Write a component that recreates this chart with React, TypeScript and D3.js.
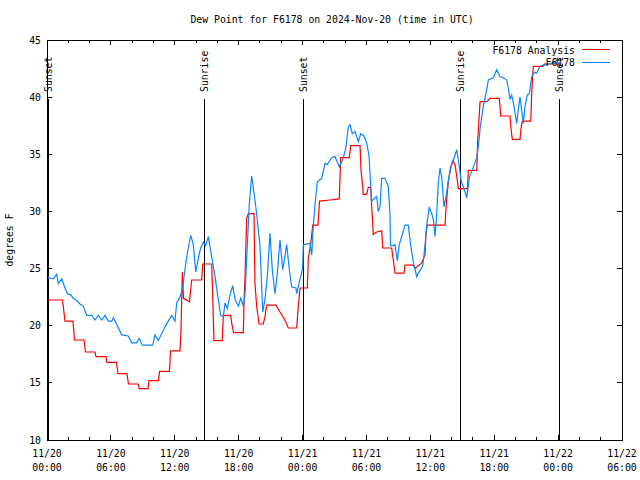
import React from 'react';
import * as d3 from 'd3';

// hours since 2024-11-20 00:00 UTC
const obsHours = [0.0, 0.1, 0.59, 0.91, 1.06, 1.38, 1.69, 1.91, 2.23, 2.47, 2.79, 3.1, 3.41, 3.73, 4.2, 4.51, 4.82, 5.14, 5.45, 5.76, 6.08, 6.23, 6.55, 7.02, 7.64, 7.95, 8.42, 8.67, 8.95, 9.93, 10.14, 10.45, 10.77, 11.08, 11.39, 11.71, 12.02, 12.18, 12.49, 12.74, 13.05, 13.27, 13.5, 13.74, 13.97, 14.21, 14.43, 14.68, 14.9, 15.15, 15.47, 15.78, 16.09, 16.31, 16.56, 16.72, 16.93, 17.19, 17.44, 17.66, 17.97, 18.19, 18.44, 18.6, 18.81, 19.0, 19.22, 19.44, 19.69, 20.0, 20.26, 20.47, 20.69, 20.94, 21.16, 21.41, 21.63, 21.88, 22.14, 22.51, 22.76, 22.98, 23.38, 23.45, 23.76, 24.01, 24.07, 24.7, 24.86, 25.01, 25.17, 25.39, 25.8, 26.11, 26.32, 26.74, 27.05, 27.45, 27.83, 28.05, 28.3, 28.46, 28.67, 28.93, 29.24, 29.46, 29.77, 30.02, 30.24, 30.4, 30.49, 30.8, 30.96, 31.11, 31.27, 31.43, 31.74, 32.05, 32.21, 32.26, 32.52, 32.68, 32.9, 33.08, 33.31, 33.62, 33.93, 34.16, 34.4, 34.72, 34.87, 35.28, 35.5, 35.66, 35.9, 36.13, 36.28, 36.44, 36.6, 36.75, 36.91, 37.07, 37.28, 37.54, 37.69, 38.01, 38.23, 38.48, 38.73, 38.89, 39.26, 39.42, 39.67, 40.04, 40.36, 40.51, 40.67, 40.83, 40.98, 41.3, 41.45, 41.91, 42.23, 42.54, 42.85, 43.17, 43.32, 43.48, 43.64, 43.86, 44.11, 44.26, 44.42, 44.58, 44.73, 44.89, 45.11, 45.3, 45.52, 45.83, 45.99, 46.3, 46.62, 47.55, 48.18];
const obsValues = [24.5, 24.2, 24.1, 24.5, 23.7, 24.1, 23.3, 22.8, 22.7, 22.4, 22.2, 21.9, 21.7, 20.9, 20.9, 20.5, 20.9, 20.5, 20.9, 20.4, 20.4, 20.7, 20.1, 19.2, 19.1, 18.5, 18.5, 18.9, 18.3, 18.3, 19.2, 18.7, 19.3, 19.9, 20.4, 20.9, 20.4, 22.0, 22.5, 23.3, 25.6, 26.8, 27.9, 27.1, 24.7, 25.9, 26.8, 27.3, 27.0, 27.8, 26.0, 24.3, 22.3, 20.9, 20.8, 22.0, 21.5, 22.7, 23.5, 22.3, 21.7, 22.4, 21.7, 22.8, 27.0, 30.7, 33.1, 31.6, 29.8, 27.0, 21.2, 22.3, 24.3, 28.1, 24.9, 22.8, 24.6, 27.5, 24.9, 27.1, 24.9, 23.4, 23.3, 22.8, 24.1, 25.0, 27.1, 27.2, 26.2, 28.8, 30.6, 32.6, 32.9, 34.2, 34.1, 34.7, 34.8, 33.9, 34.7, 35.5, 37.4, 37.6, 36.8, 37.0, 36.1, 36.8, 36.6, 36.0, 34.9, 32.2, 30.9, 31.2, 31.3, 30.0, 30.4, 32.9, 32.9, 32.2, 29.7, 27.0, 27.0, 27.1, 25.7, 27.1, 27.8, 28.8, 28.8, 27.0, 25.6, 24.3, 24.6, 25.2, 27.0, 28.8, 30.4, 29.8, 29.3, 27.8, 29.8, 32.5, 33.8, 33.0, 30.4, 31.7, 32.7, 34.2, 34.7, 35.4, 33.9, 32.7, 31.7, 31.2, 33.0, 33.9, 34.7, 35.7, 37.2, 38.3, 39.2, 40.7, 41.5, 41.7, 42.4, 41.8, 41.7, 41.5, 40.8, 39.8, 40.2, 39.2, 37.7, 38.9, 40.0, 38.9, 37.7, 39.2, 40.2, 40.3, 41.8, 42.2, 42.1, 42.7, 42.8, 43.0, 43.0];

const anaHours = [0.0, 1.46, 1.69, 2.44, 2.58, 3.47, 3.62, 4.51, 4.6, 5.54, 5.63, 6.53, 6.67, 7.51, 7.65, 8.55, 8.67, 9.49, 9.58, 10.47, 10.57, 11.5, 11.6, 12.49, 12.58, 12.71, 12.82, 13.38, 13.59, 14.53, 14.62, 15.47, 15.68, 16.46, 16.56, 17.25, 17.35, 17.52, 18.44, 18.5, 18.6, 18.75, 18.91, 19.44, 19.53, 19.69, 19.91, 20.31, 20.47, 20.63, 21.51, 21.88, 22.35, 22.66, 23.45, 23.6, 23.76, 24.45, 24.54, 24.77, 24.96, 25.45, 25.59, 26.58, 27.45, 27.58, 28.39, 28.52, 29.4, 29.49, 29.65, 29.7, 30.02, 30.17, 30.4, 30.49, 30.59, 30.64, 30.96, 31.43, 31.53, 32.37, 32.52, 32.68, 33.53, 33.62, 34.4, 34.56, 35.19, 35.5, 35.59, 35.72, 37.38, 37.44, 37.54, 37.69, 37.91, 38.16, 38.32, 38.53, 38.63, 39.49, 39.57, 40.36, 40.45, 40.67, 41.3, 41.45, 41.61, 42.48, 42.61, 43.48, 43.57, 43.7, 44.42, 44.52, 44.64, 45.43, 45.52, 45.67, 46.61, 46.7, 48.18];
const anaValues = [22.25, 22.25, 20.4, 20.4, 18.75, 18.75, 17.7, 17.7, 17.3, 17.3, 16.8, 16.8, 15.8, 15.8, 14.9, 14.9, 14.5, 14.5, 15.2, 15.2, 16.0, 16.0, 17.8, 17.8, 19.5, 24.7, 22.4, 22.1, 24.0, 24.0, 25.4, 25.4, 18.7, 18.7, 20.9, 20.9, 20.2, 19.4, 19.4, 22.0, 24.3, 29.4, 29.8, 29.8, 23.7, 21.7, 20.15, 20.15, 20.8, 21.8, 21.8, 21.2, 20.5, 19.8, 19.8, 21.7, 23.3, 23.3, 25.9, 27.2, 28.8, 28.8, 30.9, 31.0, 31.1, 34.7, 34.7, 35.75, 35.75, 33.6, 32.2, 31.5, 31.5, 32.1, 32.1, 30.4, 29.0, 28.0, 28.2, 28.3, 26.8, 26.8, 25.75, 24.6, 24.6, 25.3, 25.3, 25.0, 25.5, 26.2, 28.1, 28.8, 28.8, 29.8, 31.1, 32.6, 33.9, 34.4, 34.1, 32.75, 32.0, 32.0, 33.6, 33.6, 36.25, 39.6, 39.6, 39.75, 39.9, 39.9, 38.35, 38.35, 37.3, 36.3, 36.3, 37.3, 37.9, 37.9, 40.3, 42.7, 42.7, 42.9, 42.9];

const sunHours = [0.12, 14.77, 24.06, 38.81, 48.11];
const sunLabels = ['Sunset', 'Sunrise', 'Sunset', 'Sunrise', 'Sunset'];

const yTickValues = [10, 15, 20, 25, 30, 35, 40, 45];
const xTickHours = [0, 6, 12, 18, 24, 30, 36, 42, 48, 54];
const xTickDates = ['11/20', '11/20', '11/20', '11/20', '11/21', '11/21', '11/21', '11/21', '11/22', '11/22'];
const xTickTimes = ['00:00', '06:00', '12:00', '18:00', '00:00', '06:00', '12:00', '18:00', '00:00', '06:00'];

const titleText = 'Dew Point for F6178 on 2024-Nov-20 (time in UTC)';
const yLabelText = 'degrees F';
const seriesNames = ['F6178 Analysis', 'F6178'];
const seriesColors = ['#ff0000', '#0a86ff'];

const W = 640;
const H = 480;
const L = 47;
const R = 622;
const T = 40;
const B = 440;
const FONT = '"DejaVu Sans Mono", "Liberation Mono", monospace';
const FS = 9.8;

export default function App() {
  const x = d3.scaleLinear().domain([0, 54]).range([L, R]);
  const y = d3.scaleLinear().domain([10, 45]).range([B, T]);

  const line = d3
    .line<[number, number]>()
    .x((d) => x(d[0]))
    .y((d) => y(d[1]));

  const anaPath = line(anaHours.map((h, i) => [h, anaValues[i]] as [number, number])) || '';
  const obsPath = line(obsHours.map((h, i) => [h, obsValues[i]] as [number, number])) || '';

  const minorHours = d3.range(0, 55, 2).filter((h) => h % 6 !== 0);
  const minorY = d3.range(10, 46, 5);

  return (
    <svg
      width={W}
      height={H}
      style={{ position: 'absolute', left: 0, top: 0, background: '#fff' }}
      fontFamily={FONT}
      fontSize={FS}
    >
      <rect x={0} y={0} width={W} height={H} fill="#fff" />
      {/* title */}
      <text x={332} y={23} textAnchor="middle" fill="#000">
        {titleText}
      </text>
      {/* y label */}
      <text
        transform={`translate(13,${(T + B) / 2}) rotate(-90)`}
        textAnchor="middle"
        fill="#000"
      >
        {yLabelText}
      </text>

      {/* ticks */}
      <g stroke="#000" strokeWidth={1} shapeRendering="crispEdges">
        {xTickHours.map((h) => (
          <g key={'xt' + h}>
            <line x1={x(h)} x2={x(h)} y1={B} y2={B - 5} />
            <line x1={x(h)} x2={x(h)} y1={T} y2={T + 5} />
          </g>
        ))}
        {minorHours.map((h) => (
          <g key={'xm' + h}>
            <line x1={x(h)} x2={x(h)} y1={B} y2={B - 3} />
            <line x1={x(h)} x2={x(h)} y1={T} y2={T + 3} />
          </g>
        ))}
        {minorY.map((v) => (
          <g key={'yt' + v}>
            <line x1={L} x2={L + 5} y1={y(v)} y2={y(v)} />
            <line x1={R} x2={R - 5} y1={y(v)} y2={y(v)} />
          </g>
        ))}
      </g>

      {/* tick labels */}
      {yTickValues.map((v) => (
        <text key={'yl' + v} x={L - 6} y={y(v) + 3.5} textAnchor="end" fill="#000">
          {v}
        </text>
      ))}
      {xTickHours.map((h, i) => (
        <g key={'xl' + h}>
          <text x={x(h)} y={B + 17} textAnchor="middle" fill="#000">
            {xTickDates[i]}
          </text>
          <text x={x(h)} y={B + 31} textAnchor="middle" fill="#000">
            {xTickTimes[i]}
          </text>
        </g>
      ))}

      {/* sunrise / sunset markers */}
      {sunHours.map((h, i) => (
        <g key={'sun' + i}>
          <line
            x1={x(h)}
            x2={x(h)}
            y1={99}
            y2={B}
            stroke="#000"
            strokeWidth={1}
            shapeRendering="crispEdges"
          />
          <text
            transform={`translate(${x(h) + 3.5},92) rotate(-90)`}
            textAnchor="start"
            fill="#000"
          >
            {sunLabels[i]}
          </text>
        </g>
      ))}

      {/* data */}
      <path d={anaPath} fill="none" stroke={seriesColors[0]} strokeWidth={1.2} />
      <path d={obsPath} fill="none" stroke={seriesColors[1]} strokeWidth={1.2} />

      {/* legend */}
      {seriesNames.map((name, i) => (
        <g key={'lg' + i}>
          <text x={575} y={53.5 + i * 12.5} textAnchor="end" fill="#000">
            {name}
          </text>
          <line
            x1={582}
            x2={610}
            y1={49.5 + i * 12.5}
            y2={49.5 + i * 12.5}
            stroke={seriesColors[i]}
            strokeWidth={1}
            shapeRendering="crispEdges"
          />
        </g>
      ))}

      {/* frame */}
      <rect
        x={L}
        y={T}
        width={R - L}
        height={B - T}
        fill="none"
        stroke="#000"
        strokeWidth={1}
        shapeRendering="crispEdges"
      />
    </svg>
  );
}
